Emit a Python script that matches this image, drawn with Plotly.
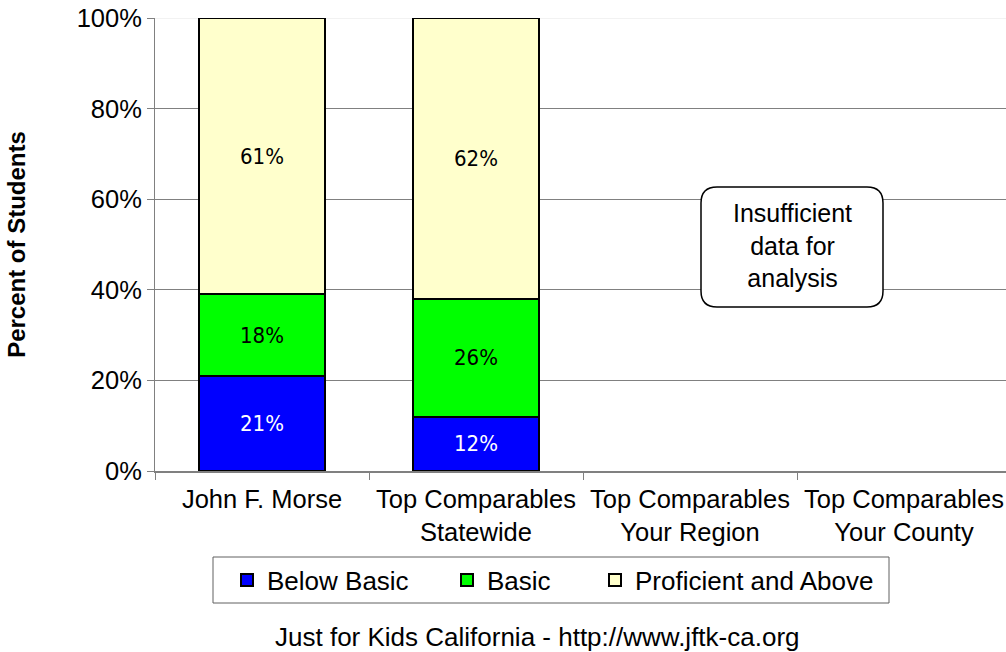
import plotly.graph_objects as go

categories = ["John F. Morse", "Top Comparables<br>Statewide",
              "Top Comparables<br>Your Region", "Top Comparables<br>Your County"]
below_basic = [21, 12, None, None]
basic = [18, 26, None, None]
proficient = [61, 62, None, None]
series_names = ["Below Basic", "Basic", "Proficient and Above"]
y_ticks = [0, 20, 40, 60, 80, 100]
y_tick_labels = ["0%", "20%", "40%", "60%", "80%", "100%"]

W, H = 1006, 652
ML, MR, MT, MB = 155, 0, 18, 181
PW, PH = W - ML - MR, H - MT - MB
CAT_PX = 214.0


def px(xp):
    return (xp - ML) / PW


def py(yp):
    return (H - MB - yp) / PH


colors = ["#0000FF", "#00FF00", "#FFFFCC"]
text_colors = ["white", "black", "black"]
legend_ids = ["legend", "legend2", "legend3"]

fig = go.Figure()
for vals, name, col, tcol, lg in zip([below_basic, basic, proficient], series_names,
                                     colors, text_colors, legend_ids):
    fig.add_trace(go.Bar(
        x=categories, y=vals, name=name, legend=lg,
        marker=dict(color=col, line=dict(color="black", width=2)),
        width=0.59,
        texttemplate="%{y:.0f}%", textposition="inside", insidetextanchor="middle",
        textfont=dict(family="DejaVu Sans Condensed, Liberation Sans Narrow, sans-serif",
                      size=22, color=tcol),
        constraintext="none",
    ))

font_main = "Liberation Sans, Arial, sans-serif"
FS = 25.5

leg_common = dict(orientation="h", bgcolor="rgba(0,0,0,0)", borderwidth=0,
                  font=dict(family=font_main, size=26, color="black"),
                  yanchor="middle", xanchor="left", y=py(580))

fig.update_layout(
    width=W, height=H,
    margin=dict(l=ML, r=MR, t=MT, b=MB, autoexpand=False),
    paper_bgcolor="white", plot_bgcolor="white",
    barmode="stack",
    font=dict(family=font_main, size=FS, color="black"),
    xaxis=dict(
        type="category", range=[-0.5, -0.5 + PW / CAT_PX],
        showline=True, linecolor="#808080", linewidth=2,
        ticks="outside", tickson="boundaries", ticklen=7, tickcolor="#808080", tickwidth=1,
        ticklabelstandoff=4,
        showgrid=False, tickfont=dict(family=font_main, size=FS, color="black"),
    ),
    yaxis=dict(
        range=[0, 100], tickmode="array", tickvals=y_ticks, ticktext=y_tick_labels,
        showline=True, linecolor="#808080", linewidth=1,
        ticks="outside", ticklen=7, tickcolor="#808080",
        showgrid=True, gridcolor="#808080", gridwidth=1,
        zeroline=False,
        tickfont=dict(family=font_main, size=FS, color="black"),
        title=dict(text="<b>Percent of Students</b>", standoff=44,
                   font=dict(family=font_main, size=24, color="black")),
    ),
    legend=dict(leg_common, x=px(227)),
    legend2=dict(leg_common, x=px(447)),
    legend3=dict(leg_common, x=px(595)),
    showlegend=True,
)

# light top border line at 100%
fig.add_shape(type="line", xref="paper", yref="y", x0=0, x1=1, y0=100, y1=100,
              line=dict(color="#E6E6E6", width=1), layer="below")

# legend frame
fig.add_shape(type="rect", xref="paper", yref="paper",
              x0=px(213), x1=px(889), y0=py(603), y1=py(557),
              line=dict(color="#606060", width=1), fillcolor="rgba(0,0,0,0)")

# rounded box "Insufficient data for analysis"
bx0, bx1, by0, by1, r = 701, 883, 187, 307, 16


def P(xp, yp):
    return f"{px(xp):.5f},{py(yp):.5f}"


path = (f"M {P(bx0 + r, by0)} L {P(bx1 - r, by0)} Q {P(bx1, by0)} {P(bx1, by0 + r)} "
        f"L {P(bx1, by1 - r)} Q {P(bx1, by1)} {P(bx1 - r, by1)} "
        f"L {P(bx0 + r, by1)} Q {P(bx0, by1)} {P(bx0, by1 - r)} "
        f"L {P(bx0, by0 + r)} Q {P(bx0, by0)} {P(bx0 + r, by0)} Z")
fig.add_shape(type="path", xref="paper", yref="paper", path=path,
              line=dict(color="black", width=1.5), fillcolor="white")

fig.add_annotation(xref="paper", yref="paper", x=px(792), y=py(245),
                   text="Insufficient<br>data for<br>analysis", showarrow=False,
                   xanchor="center", yanchor="middle",
                   font=dict(family=font_main, size=25, color="black"))

fig.add_annotation(xref="paper", yref="paper", x=px(537), y=py(637),
                   text="Just for Kids California - http://www.jftk-ca.org", showarrow=False,
                   xanchor="center", yanchor="middle",
                   font=dict(family=font_main, size=26, color="black"))

fig.write_html("out.html", config={"displayModeBar": False},
               post_script="document.body.style.margin='0';")
